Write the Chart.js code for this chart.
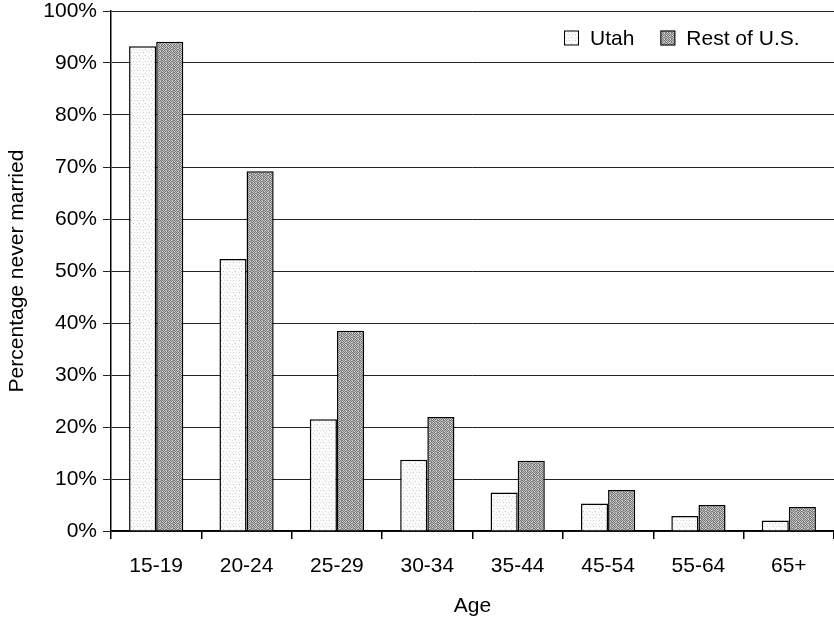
<!DOCTYPE html>
<html>
<head>
<meta charset="utf-8">
<title>Percentage never married by age</title>
<script src="https://cdn.jsdelivr.net/npm/chart.js@4"></script>
<style>
  html, body { margin: 0; padding: 0; background: #ffffff; }
  #wrap { width: 834px; height: 622px; }
</style>
</head>
<body>
<div id="wrap"><canvas id="chart" width="834" height="622"></canvas></div>
<script>
// Age groups along the horizontal axis
const ageGroups = ['15-19', '20-24', '25-29', '30-34', '35-44', '45-54', '55-64', '65+'];

// Share of people who have never married, in percent
const utahValues = [93.2, 52.3, 21.5, 13.7, 7.4, 5.3, 2.9, 2.0];
const restOfUSValues = [94.1, 69.2, 38.5, 21.9, 13.5, 7.9, 5.0, 4.6];

// Vertical axis ticks, in percent
const yTicks = [0, 10, 20, 30, 40, 50, 60, 70, 80, 90, 100];

const FONT = '"Liberation Sans", Arial, sans-serif';
const FONT_SIZE = 21;

// Small dithered fills that give the bars a stippled, printed look
function stipple(cells, colors) {
  const n = cells.length;
  const c = document.createElement('canvas');
  c.width = n; c.height = n;
  const g = c.getContext('2d');
  for (let y = 0; y < n; y++) {
    for (let x = 0; x < n; x++) {
      g.fillStyle = colors[cells[y][x]];
      g.fillRect(x, y, 1, 1);
    }
  }
  return g.createPattern(c, 'repeat');
}

const lightFill = stipple([
  [0, 0, 0, 0, 0, 0],
  [0, 1, 0, 0, 0, 0],
  [0, 0, 0, 0, 2, 0],
  [0, 0, 0, 0, 0, 0],
  [0, 0, 2, 0, 0, 1],
  [0, 0, 0, 0, 0, 0]
], ['#fbfbfb', '#c8c8c8', '#dedede']);

const darkFill = stipple([
  [0, 1, 0, 2, 1, 0],
  [1, 0, 1, 0, 0, 1],
  [0, 2, 0, 1, 1, 0],
  [1, 0, 1, 0, 2, 0],
  [0, 1, 0, 1, 0, 1],
  [2, 0, 1, 0, 1, 0]
], ['#767676', '#bdbdbd', '#e4e4e4']);

// Legend drawn inside the plot, in its top-right corner
const insideLegend = {
  id: 'insideLegend',
  afterDraw(chart, args, opts) {
    const { ctx, chartArea } = chart;
    const items = chart.data.datasets.map(ds => ({ text: ds.label, fill: ds.backgroundColor }));
    ctx.save();
    ctx.font = opts.size + 'px ' + FONT;
    ctx.textBaseline = 'middle';
    ctx.textAlign = 'left';
    const widths = items.map(it => opts.box + opts.gap + ctx.measureText(it.text).width);
    const total = widths.reduce((a, b) => a + b, 0) + opts.spacing * (items.length - 1);
    let x = Math.round(chartArea.right - opts.right - total);
    const cy = Math.round(chartArea.top + opts.top);
    items.forEach((it, i) => {
      ctx.fillStyle = it.fill;
      ctx.fillRect(x, cy - opts.box / 2, opts.box, opts.box);
      ctx.strokeStyle = '#000000';
      ctx.lineWidth = 1;
      ctx.strokeRect(x + 0.5, cy - opts.box / 2 + 0.5, opts.box - 1, opts.box - 1);
      ctx.fillStyle = '#000000';
      ctx.fillText(it.text, x + opts.box + opts.gap, cy + 1);
      x += widths[i] + opts.spacing;
    });
    ctx.restore();
  }
};

const ctx = document.getElementById('chart').getContext('2d');

new Chart(ctx, {
  type: 'bar',
  data: {
    labels: ageGroups,
    datasets: [
      {
        label: 'Utah',
        data: utahValues,
        backgroundColor: lightFill,
        borderColor: '#000000',
        borderWidth: 1.5
      },
      {
        label: 'Rest of U.S.',
        data: restOfUSValues,
        backgroundColor: darkFill,
        borderColor: '#000000',
        borderWidth: 1.5
      }
    ]
  },
  plugins: [insideLegend],
  options: {
    responsive: false,
    animation: false,
    devicePixelRatio: 1,
    datasets: {
      bar: { categoryPercentage: 0.6, barPercentage: 1.0 }
    },
    layout: { padding: { top: 11, right: 0, bottom: 0, left: 0 } },
    plugins: {
      tooltip: { enabled: false },
      legend: { display: false },
      insideLegend: { size: FONT_SIZE, box: 15, gap: 11, spacing: 26, right: 34, top: 27 }
    },
    scales: {
      x: {
        offset: true,
        grid: {
          display: true,
          drawOnChartArea: false,
          drawTicks: true,
          tickLength: 8,
          color: '#000000',
          lineWidth: 1.5
        },
        border: { display: true, color: '#000000', width: 1.5 },
        ticks: {
          color: '#000000',
          font: { family: FONT, size: FONT_SIZE },
          padding: 15,
          maxRotation: 0,
          autoSkip: false
        },
        title: {
          display: true,
          text: 'Age',
          color: '#000000',
          font: { family: FONT, size: FONT_SIZE },
          padding: { top: 4, bottom: 3 }
        },
        afterFit(scale) { scale.height = 91; }
      },
      y: {
        min: yTicks[0],
        max: yTicks[yTicks.length - 1],
        afterBuildTicks(scale) { scale.ticks = yTicks.map(v => ({ value: v })); },
        grid: {
          display: true,
          drawTicks: true,
          tickLength: 8,
          color: '#222222',
          lineWidth: 1
        },
        border: { display: true, color: '#000000', width: 1.5 },
        ticks: {
          color: '#000000',
          font: { family: FONT, size: FONT_SIZE },
          padding: 6,
          callback: v => v + '%'
        },
        title: {
          display: true,
          text: 'Percentage never married',
          color: '#000000',
          font: { family: FONT, size: FONT_SIZE },
          padding: { top: 5, bottom: 0 }
        },
        afterFit(scale) {
          scale.width = 111;
          scale.paddingTop = 11;
        }
      }
    }
  }
});
</script>
</body>
</html>
